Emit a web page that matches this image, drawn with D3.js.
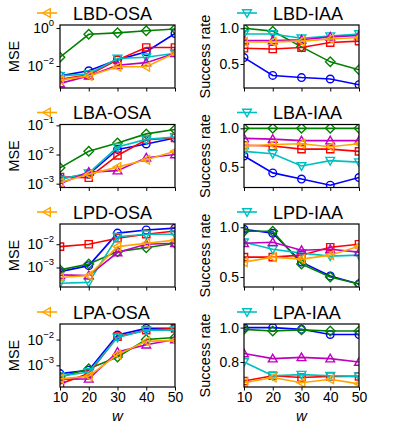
<!DOCTYPE html>
<html>
  <head>
    <style>
      html, body {
        padding: 0;
        margin: 0;
        overflow: hidden;
        background: #ffffff;
      }
      text {
        font-family: "Liberation Sans", Arial, sans-serif;
        fill: #000;
      }
    </style>
  </head>
  <body>
    <div id="chart"></div>
    <script src="https://cdnjs.cloudflare.com/ajax/libs/d3/7.8.5/d3.min.js"></script>
    <script>
      // x values shared by all panels
      let windows = [10, 20, 30, 40, 50]

      let seriesNames = ['blue', 'green', 'red', 'cyan', 'magenta', 'orange']

      // LBD-OSA (MSE)
      let lbdOsa = {
        blue:    [0.0030, 0.0056, 0.021, 0.056, 0.52],
        green:   [0.029, 0.47, 0.56, 0.72, 0.89],
        red:     [0.0020, 0.0034, 0.021, 0.095, 0.095],
        cyan:    [0.0030, 0.0038, 0.025, 0.029, 0.047],
        magenta: [0.0012, 0.0030, 0.011, 0.015, 0.047],
        orange:  [0.0018, 0.0030, 0.0091, 0.0091, 0.047]
      }
      // LBD-IAA (success rate)
      let lbdIaa = {
        blue:    [0.59, 0.34, 0.31, 0.29, 0.21],
        green:   [1.0, 0.96, 0.74, 0.53, 0.42],
        red:     [0.72, 0.71, 0.73, 0.80, 0.82],
        cyan:    [0.92, 0.92, 0.86, 0.89, 0.92],
        magenta: [0.83, 0.83, 0.84, 0.88, 0.90],
        orange:  [0.81, 0.81, 0.82, 0.85, 0.87]
      }
      // LBA-OSA (MSE)
      let lbaOsa = {
        blue:    [0.0015, 0.0021, 0.015, 0.023, 0.037],
        green:   [0.0035, 0.013, 0.025, 0.051, 0.072],
        red:     [0.0017, 0.0016, 0.0093, 0.032, 0.037],
        cyan:    [0.0014, 0.0023, 0.018, 0.033, 0.040],
        magenta: [0.0010, 0.0025, 0.0028, 0.0078, 0.010],
        orange:  [0.0011, 0.0021, 0.0037, 0.0066, 0.013]
      }
      // LBA-IAA (success rate)
      let lbaIaa = {
        blue:    [0.64, 0.42, 0.34, 0.26, 0.36],
        green:   [1.0, 1.0, 1.0, 1.0, 1.0],
        red:     [0.78, 0.77, 0.73, 0.73, 0.70],
        cyan:    [0.70, 0.67, 0.51, 0.58, 0.56],
        magenta: [0.87, 0.86, 0.84, 0.84, 0.84],
        orange:  [0.77, 0.79, 0.80, 0.76, 0.80]
      }
      // LPD-OSA (MSE)
      let lpdOsa = {
        blue:    [0.00066, 0.0012, 0.030, 0.041, 0.049],
        green:   [0.00079, 0.0014, 0.0048, 0.0071, 0.011],
        red:     [0.0079, 0.010, 0.018, 0.027, 0.037],
        cyan:    [0.00021, 0.00023, 0.021, 0.027, 0.027],
        magenta: [0.00048, 0.00045, 0.0044, 0.010, 0.011],
        orange:  [0.00037, 0.00045, 0.0079, 0.011, 0.015]
      }
      // LPD-IAA (success rate)
      let lpdIaa = {
        blue:    [0.98, 0.94, 0.65, 0.51, 0.43],
        green:   [0.96, 0.96, 0.63, 0.50, 0.43],
        red:     [0.70, 0.70, 0.72, 0.80, 0.83],
        cyan:    [0.85, 0.78, 0.74, 0.71, 0.72],
        magenta: [0.84, 0.85, 0.77, 0.78, 0.75],
        orange:  [0.65, 0.70, 0.68, 0.72, 0.81]
      }
      // LPA-OSA (MSE)
      let lpaOsa = {
        blue:    [0.00048, 0.00065, 0.015, 0.027, 0.027],
        green:   [0.00035, 0.00074, 0.0021, 0.010, 0.012],
        red:     [0.00019, 0.00048, 0.013, 0.023, 0.027],
        cyan:    [0.00038, 0.00055, 0.012, 0.023, 0.023],
        magenta: [0.00029, 0.00030, 0.0033, 0.0063, 0.010],
        orange:  [0.00030, 0.00038, 0.0026, 0.0085, 0.0093]
      }
      // LPA-IAA (success rate)
      let lpaIaa = {
        blue:    [1.0, 1.0, 0.99, 0.96, 0.96],
        green:   [0.99, 0.98, 0.987, 0.98, 0.98],
        red:     [0.69, 0.72, 0.71, 0.717, 0.717],
        cyan:    [0.80, 0.72, 0.727, 0.72, 0.717],
        magenta: [0.85, 0.82, 0.827, 0.82, 0.80],
        orange:  [0.68, 0.71, 0.68, 0.70, 0.673]
      }

      let titles = ['LBD-OSA', 'LBD-IAA', 'LBA-OSA', 'LBA-IAA', 'LPD-OSA', 'LPD-IAA', 'LPA-OSA', 'LPA-IAA']
      let xTicks = [10, 20, 30, 40, 50]

      let colors = {
        blue: '#0000ff',
        green: '#008000',
        red: '#ff0000',
        cyan: '#00bfbf',
        magenta: '#bf00bf',
        orange: '#ffa500'
      }
      let markers = {
        blue: 'circle',
        green: 'diamond',
        red: 'square',
        cyan: 'tri-down',
        magenta: 'tri-up',
        orange: 'tri-left'
      }

      let width = 399
      let height = 426

      let panels = [
        { data: lbdOsa, title: titles[0], log: true,  domain: [0.00069, 1.45], ticks: [1, 1e-2] },
        { data: lbdIaa, title: titles[1], log: false, domain: [0.164, 1.046], ticks: [0.5, 1.0] },
        { data: lbaOsa, title: titles[2], log: true,  domain: [0.00074, 0.107], ticks: [1e-1, 1e-2, 1e-3] },
        { data: lbaIaa, title: titles[3], log: false, domain: [0.23, 1.05], ticks: [0.5, 1.0] },
        { data: lpdOsa, title: titles[4], log: true,  domain: [0.000145, 0.074], ticks: [1e-2, 1e-3] },
        { data: lpdIaa, title: titles[5], log: false, domain: [0.40, 1.033], ticks: [0.5, 1.0] },
        { data: lpaOsa, title: titles[6], log: true,  domain: [0.000145, 0.040], ticks: [1e-2, 1e-3] },
        { data: lpaIaa, title: titles[7], log: false, domain: [0.655, 1.021], ticks: [0.8, 1.0] }
      ]

      let colLeft = [60, 244]
      let rowTop = [25, 124.5, 224, 324]
      let pw = 115
      let ph = 63

      let svg = d3.select('#chart')
        .append('svg')
        .attr('width', width)
        .attr('height', height)

      function markerPath(type, s) {
        if (type === 'circle') return d3.symbol().type(d3.symbolCircle).size(Math.PI * s * s)()
        if (type === 'square') {
          let q = s * 0.95
          return `M${-q},${-q}H${q}V${q}H${-q}Z`
        }
        if (type === 'diamond') {
          let r = s * 1.25
          return `M0,${-r}L${r},0L0,${r}L${-r},0Z`
        }
        let r = s * 1.15
        let pts
        if (type === 'tri-up') pts = [[0, -r], [r, r * 0.75], [-r, r * 0.75]]
        if (type === 'tri-down') pts = [[0, r], [r, -r * 0.75], [-r, -r * 0.75]]
        if (type === 'tri-left') pts = [[-r, 0], [r * 0.75, -r], [r * 0.75, r]]
        return 'M' + pts.map(p => p.join(',')).join('L') + 'Z'
      }

      let superMinus = '\u2212'
      let msize = 3.8

      panels.forEach((p, i) => {
        let col = i % 2
        let row = Math.floor(i / 2)
        let left = colLeft[col]
        let top = rowTop[row]

        let g = svg.append('g').attr('transform', `translate(${left},${top})`)

        let x = d3.scaleLinear().domain([10, 50]).range([0, pw])
        let y = (p.log ? d3.scaleLog() : d3.scaleLinear()).domain(p.domain).range([ph, 0])

        // clip
        let clipId = 'clip' + i
        g.append('clipPath').attr('id', clipId)
          .append('rect').attr('width', pw).attr('height', ph)

        let plot = g.append('g').attr('clip-path', `url(#${clipId})`)

        let line = d3.line()
          .x((d, j) => x(windows[j]))
          .y(d => y(d))

        seriesNames.forEach(name => {
          let vals = p.data[name]
          plot.append('path')
            .attr('d', line(vals))
            .attr('fill', 'none')
            .attr('stroke', colors[name])
            .attr('stroke-width', 1.6)
          plot.selectAll(null)
            .data(vals)
            .enter().append('path')
            .attr('transform', (d, j) => `translate(${x(windows[j])},${y(d)})`)
            .attr('d', markerPath(markers[name], msize))
            .attr('fill', 'none')
            .attr('stroke', colors[name])
            .attr('stroke-width', 1.4)
        })

        // frame
        g.append('rect')
          .attr('width', pw).attr('height', ph)
          .attr('fill', 'none')
          .attr('stroke', '#000')
          .attr('stroke-width', 1.2)

        // y axis
        let yAxis = d3.axisLeft(y).tickValues(p.ticks).tickSize(3.5).tickPadding(2).tickFormat('')
        let ya = g.append('g').call(yAxis)
        ya.select('.domain').remove()
        ya.selectAll('line').attr('stroke', '#000').attr('stroke-width', 1)

        p.ticks.forEach(t => {
          let ty = y(t)
          if (p.log) {
            let e = Math.round(Math.log10(t))
            let expStr = e < 0 ? superMinus + Math.abs(e) : String(e)
            let txt = g.append('text')
              .attr('x', -6)
              .attr('y', ty + 5)
              .attr('text-anchor', 'end')
              .style('font-size', '14px')
            txt.append('tspan').text('10')
            txt.append('tspan').attr('dy', -7).style('font-size', '9.5px').text(expStr)
          } else {
            g.append('text')
              .attr('x', -5)
              .attr('y', ty + 5)
              .attr('text-anchor', 'end')
              .style('font-size', '14px')
              .text(t.toFixed(1))
          }
        })

        // x axis
        let xAxis = d3.axisBottom(x).tickValues(xTicks).tickSize(3.5).tickPadding(2)
          .tickFormat(row === 3 ? d3.format('d') : '')
        let xa = g.append('g').attr('transform', `translate(0,${ph})`).call(xAxis)
        xa.select('.domain').remove()
        xa.selectAll('line').attr('stroke', '#000').attr('stroke-width', 1)
        xa.selectAll('text')
          .style('font-size', '14px')
          .style('font-family', '"Liberation Sans", Arial, sans-serif')
          .attr('fill', '#000')

        if (row === 3) {
          g.append('text')
            .attr('x', pw / 2)
            .attr('y', ph + 34)
            .attr('text-anchor', 'middle')
            .style('font-size', '15px')
            .style('font-style', 'italic')
            .text('w')
        }

        // y label
        g.append('text')
          .attr('transform', `translate(${col === 0 ? -41 : -34},${ph / 2}) rotate(-90)`)
          .attr('text-anchor', 'middle')
          .style('font-size', '14.5px')
          .text(col === 0 ? 'MSE' : 'Success rate')

        // title legend
        let legName = col === 0 ? 'orange' : 'cyan'
        let lx = col === 0 ? -23 : -7
        let ly = -12
        g.append('line')
          .attr('x1', lx).attr('x2', lx + 20)
          .attr('y1', ly).attr('y2', ly)
          .attr('stroke', colors[legName])
          .attr('stroke-width', 1.6)
        g.append('path')
          .attr('transform', `translate(${lx + 10},${ly})`)
          .attr('d', markerPath(markers[legName], msize))
          .attr('fill', 'none')
          .attr('stroke', colors[legName])
          .attr('stroke-width', 1.4)
        g.append('text')
          .attr('x', lx + 36)
          .attr('y', ly + 6.5)
          .style('font-size', '18px')
          .text(p.title)
      })
    </script>
  </body>
</html>
